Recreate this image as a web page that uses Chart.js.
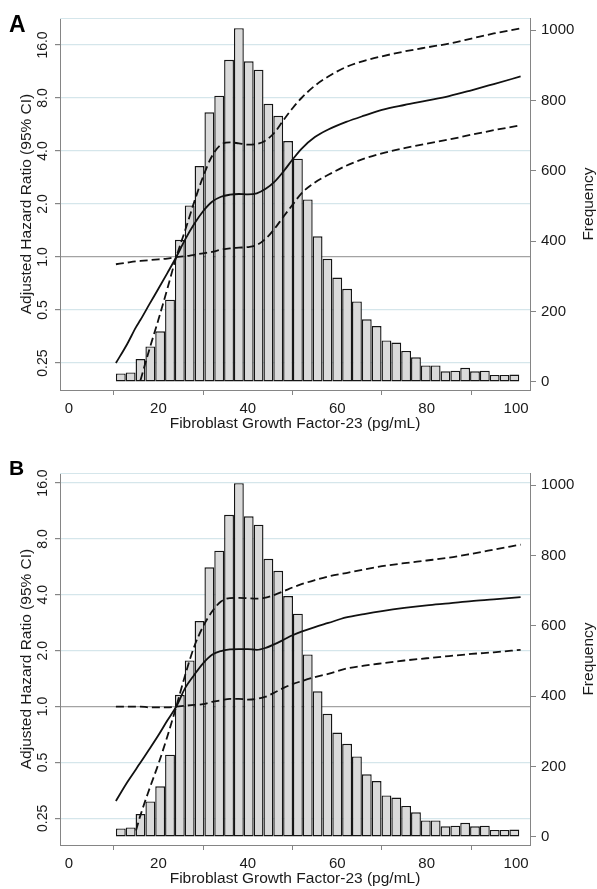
<!DOCTYPE html>
<html>
<head>
<meta charset="utf-8">
<script src="https://cdn.jsdelivr.net/npm/chart.js@4.4.1/dist/chart.umd.min.js"></script>
<style>
  body { margin: 0; background: #fff; }
  canvas { position: absolute; left: 0; }
  #chartA { top: 0; }
  #chartB { top: 455px; }
</style>
</head>
<body>
<canvas id="chartA" width="597" height="434"></canvas>
<canvas id="chartB" width="597" height="434"></canvas>
<script>
// FGF-23 histogram (same distribution behind both panels)
const binMid = [11.6, 13.8, 16.0, 18.2, 20.4, 22.6, 24.8, 27.0, 29.2, 31.4, 33.6, 35.8, 38.0, 40.2,
  42.4, 44.6, 46.8, 49.0, 51.2, 53.4, 55.6, 57.8, 60.0, 62.2, 64.4, 66.6, 68.8, 71.0, 73.2, 75.4,
  77.6, 79.8, 82.0, 84.2, 86.4, 88.6, 90.8, 93.0, 95.2, 97.4, 99.6];
const frequency = [24, 27, 65, 101, 144, 234, 404, 502, 614, 767, 814, 916, 1006, 912, 888, 791,
  757, 685, 635, 519, 414, 350, 297, 265, 229, 178, 159, 118, 112, 88, 70, 47, 47, 30, 32, 40, 30,
  32, 20, 20, 21];

// spline x positions (pg/mL)
const fgfX = [10.5, 13, 15, 16, 18, 20, 22, 24, 26, 28, 30, 32, 34, 36, 38, 40, 42, 44, 46, 48, 50,
  52, 55, 58, 62, 66, 70, 75, 80, 85, 90, 95, 101];

// panel A
const hrA = [0.25, 0.32, 0.40, 0.44, 0.54, 0.66, 0.81, 1.0, 1.26, 1.54, 1.82, 2.06, 2.2, 2.26, 2.28,
  2.27, 2.3, 2.44, 2.68, 3.07, 3.58, 4.12, 4.8, 5.3, 5.85, 6.35, 6.85, 7.3, 7.73, 8.2, 8.85, 9.6, 10.6];
const ciSteepA = [null, null, null, 0.2, 0.3, 0.44, 0.66, 1.0, 1.42, 2.05, 2.86, 3.75, 4.35, 4.48,
  4.42, 4.35, 4.38, 4.6, 5.1, 6.0, 7.0, 8.0, 9.4, 10.6, 12.0, 13.0, 13.8, 14.7, 15.5, 16.3, 17.4, 18.6, 19.9];
const ciFlatA = [0.91, 0.93, 0.945, 0.95, 0.96, 0.97, 0.98, 1.0, 1.01, 1.03, 1.05, 1.07, 1.1, 1.12,
  1.13, 1.14, 1.17, 1.27, 1.45, 1.7, 1.98, 2.3, 2.65, 2.93, 3.3, 3.62, 3.88, 4.15, 4.4, 4.65, 4.95, 5.25, 5.6];

// panel B
const hrB = [0.31, 0.39, 0.46, 0.5, 0.59, 0.70, 0.84, 1.0, 1.26, 1.48, 1.71, 1.9, 1.99, 2.03, 2.04,
  2.04, 2.02, 2.07, 2.17, 2.29, 2.42, 2.53, 2.68, 2.82, 3.02, 3.15, 3.27, 3.4, 3.51, 3.6, 3.7, 3.78, 3.89];
const ciSteepB = [null, null, 0.215, 0.26, 0.36, 0.49, 0.69, 1.0, 1.48, 2.1, 2.7, 3.25, 3.68, 3.84,
  3.85, 3.83, 3.81, 3.86, 4.0, 4.18, 4.38, 4.56, 4.8, 5.02, 5.24, 5.48, 5.7, 5.92, 6.12, 6.34, 6.65, 7.0, 7.45];
const ciFlatB = [1.0, 1.0, 1.0, 1.0, 0.99, 0.99, 0.99, 1.0, 1.01, 1.02, 1.03, 1.06, 1.08, 1.1, 1.1,
  1.09, 1.1, 1.13, 1.19, 1.26, 1.32, 1.37, 1.44, 1.5, 1.6, 1.66, 1.71, 1.77, 1.82, 1.87, 1.92, 1.96, 2.02];

const xTicks = [0, 20, 40, 60, 80, 100];
const hrTicks = [0.25, 0.5, 1, 2, 4, 8, 16];
const hrTickLabels = ['0.25', '0.5', '1.0', '2.0', '4.0', '8.0', '16.0'];
const freqTicks = [0, 200, 400, 600, 800, 1000];

const textColor = '#1a1a1a';
const axisGray = '#858585';
const gridBlue = '#d5e6eb';
const refGray = '#a3a3a3';

Chart.defaults.font.family = '"Liberation Sans", Arial, Helvetica, sans-serif';
Chart.defaults.color = textColor;

function toPoints(xs, ys) {
  return xs.map((x, i) => ({ x: x, y: ys[i] }));
}

// panel letter, top frame line and the right-hand title (reads upward, as on the left)
function decor(letter, letterSize, letterY) {
  return {
    id: 'decor',
    beforeDatasetsDraw(chart) {
      const { ctx, chartArea } = chart;
      ctx.save();
      ctx.strokeStyle = gridBlue;
      ctx.lineWidth = 1.2;
      ctx.beginPath();
      ctx.moveTo(chartArea.left, chartArea.top + 0.5);
      ctx.lineTo(chartArea.right, chartArea.top + 0.5);
      ctx.stroke();
      ctx.restore();
    },
    afterDraw(chart) {
      const { ctx, chartArea } = chart;
      ctx.save();
      ctx.fillStyle = '#000';
      ctx.textAlign = 'left';
      ctx.textBaseline = 'alphabetic';
      ctx.font = 'bold ' + letterSize + 'px "Liberation Sans", Arial, sans-serif';
      ctx.fillText(letter, 9, letterY);

      ctx.fillStyle = textColor;
      ctx.font = '15.5px "Liberation Sans", Arial, sans-serif';
      ctx.translate(593, (chartArea.top + chartArea.bottom) / 2);
      ctx.rotate(-Math.PI / 2);
      ctx.textAlign = 'center';
      ctx.fillText('Frequency', 0, 0);
      ctx.restore();
    }
  };
}

function makePanel(id, letter, letterSize, letterY, hr, ciSteep, ciFlat, hrMin, hrMax) {
  const lineStyle = { type: 'line', yAxisID: 'hr', borderColor: '#111', borderWidth: 1.8,
    pointRadius: 0, cubicInterpolationMode: 'monotone', spanGaps: false, order: 0 };

  return new Chart(id, {
    type: 'bar',
    data: {
      datasets: [
        Object.assign({ data: toPoints(fgfX, hr) }, lineStyle),
        Object.assign({ data: toPoints(fgfX, ciSteep), borderDash: [8, 4] }, lineStyle),
        Object.assign({ data: toPoints(fgfX, ciFlat), borderDash: [8, 4] }, lineStyle),
        {
          type: 'bar',
          yAxisID: 'freq',
          data: toPoints(binMid, frequency),
          backgroundColor: '#dadada',
          borderColor: '#151515',
          borderWidth: 1.4,
          borderSkipped: false,
          inflateAmount: 0,
          barPercentage: 1,
          categoryPercentage: 1,
          order: 1
        }
      ]
    },
    options: {
      responsive: false,
      animation: false,
      layout: { padding: { top: 18, left: 0, right: 0, bottom: 0 } },
      plugins: { legend: { display: false }, tooltip: { enabled: false } },
      scales: {
        x: {
          type: 'linear',
          position: 'bottom',
          min: -2,
          max: 103.1,
          offset: false,
          afterBuildTicks: (s) => { s.ticks = xTicks.map((v) => ({ value: v })); },
          afterFit: (s) => { s.height = 44; },
          grid: { drawOnChartArea: false, drawTicks: true, tickLength: 5, tickColor: axisGray },
          border: { color: axisGray, width: 1 },
          ticks: { font: { size: 15 }, color: textColor, padding: 5, maxRotation: 0, autoSkip: false },
          title: { display: true, text: 'Fibroblast Growth Factor-23 (pg/mL)', font: { size: 15.5 },
            color: textColor, padding: { top: 0, bottom: 1.2 } }
        },
        hr: {
          type: 'logarithmic',
          position: 'left',
          min: hrMin,
          max: hrMax,
          afterBuildTicks: (s) => { s.ticks = hrTicks.map((v) => ({ value: v })); },
          afterFit: (s) => { s.width = 60; },
          grid: {
            color: (c) => (c.tick && c.tick.value === 1 ? refGray : gridBlue),
            lineWidth: 1.2,
            tickColor: axisGray,
            tickLength: 5
          },
          border: { color: axisGray, width: 1 },
          ticks: {
            font: { size: 14 },
            color: textColor,
            minRotation: 90,
            maxRotation: 90,
            crossAlign: 'center',
            padding: -1.5,
            autoSkip: false,
            callback: (v, i) => hrTickLabels[i]
          },
          title: { display: true, text: 'Adjusted Hazard Ratio (95% CI)', font: { size: 15.5 },
            color: textColor, padding: { top: 17, bottom: 0 } }
        },
        freq: {
          type: 'linear',
          position: 'right',
          min: -23,
          max: 1035,
          afterBuildTicks: (s) => { s.ticks = freqTicks.map((v) => ({ value: v })); },
          afterFit: (s) => { s.width = 67; },
          grid: { drawOnChartArea: false, drawTicks: true, tickLength: 6, tickColor: axisGray },
          border: { color: axisGray, width: 1 },
          ticks: { font: { size: 15 }, color: textColor, padding: 5, autoSkip: false,
            callback: (v) => String(v) }
        }
      }
    },
    plugins: [decor(letter, letterSize, letterY)]
  });
}

makePanel('chartA', 'A', 23, 31.5, hrA, ciSteepA, ciFlatA, 0.1758, 22.77);
makePanel('chartB', 'B', 21, 20, hrB, ciSteepB, ciFlatB, 0.1795, 18.12);
</script>
</body>
</html>
